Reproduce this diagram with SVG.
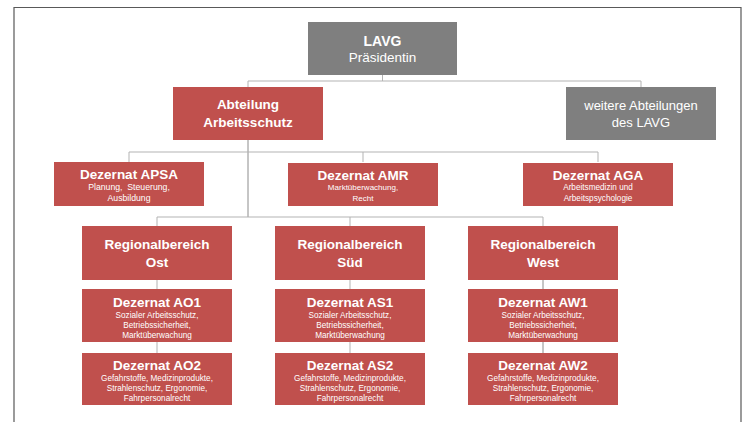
<svg xmlns="http://www.w3.org/2000/svg" width="744" height="422" viewBox="0 0 744 422">
<style>
.red{fill:#c0504d}
.gray{fill:#7f7f7f}
text{font-family:"Liberation Sans",Arial,sans-serif;fill:#ffffff;text-anchor:middle}
.t{font-size:13.5px;font-weight:bold}
.n{font-size:13.5px}
.s{font-size:8.2px}
.ln{fill:none;stroke:#b3b3b3;stroke-width:1}
.dk{fill:none;stroke:#8c8c8c;stroke-width:1}
.frame{fill:none;stroke:#595959;stroke-width:1.2}
</style>
<rect width="744" height="422" fill="#ffffff"/>
<path class="frame" d="M14,423 V7.5 H741 V423"/>
<g id="connectors">
<path class="ln" d="M382.5,75 V81 M248,81 H641 M248,81 V87 M641,81 V87"/>
<path class="dk" d="M248,140 V217"/>
<path class="ln" d="M129,152 H598 M129,152 V162 M363,152 V162 M598,152 V162"/>
<path class="ln" d="M157,217 H543 M157,217 V226 M350,217 V226 M543,217 V226"/>
<path class="ln" d="M157,280 V289 M350,280 V289 M157,342 V353 M350,342 V353"/>
<path class="dk" d="M543,280 V289 M543,342 V353"/>
</g>
<g id="lavg"><rect class="gray" x="308" y="22" width="149" height="53"/>
<text class="t" x="382.5" y="46" style="font-size:14px">LAVG</text><text class="n" x="382.5" y="62" style="font-size:13.5px">Präsidentin</text></g>
<g id="abteilung"><rect class="red" x="173" y="87" width="150" height="53"/>
<text class="t" x="248" y="109">Abteilung</text><text class="t" x="248" y="127">Arbeitsschutz</text></g>
<g id="weitere"><rect class="gray" x="566" y="87" width="150" height="53"/>
<text class="n" x="641" y="110" style="font-size:13px">weitere Abteilungen</text><text class="n" x="641" y="127" style="font-size:13px">des LAVG</text></g>
<g id="apsa"><rect class="red" x="54" y="162" width="150" height="44"/>
<text class="t" x="129" y="179">Dezernat APSA</text><text class="s" x="129" y="190" style="font-size:8.7px;white-space:pre" xml:space="preserve">Planung,  Steuerung,</text><text class="s" x="129" y="201" style="font-size:8.7px">Ausbildung</text></g>
<g id="amr"><rect class="red" x="288" y="163" width="150" height="43"/>
<text class="t" x="363" y="180">Dezernat AMR</text><text class="s" x="363" y="190" style="font-size:8px">Marktüberwachung,</text><text class="s" x="363" y="201" style="font-size:8px">Recht</text></g>
<g id="aga"><rect class="red" x="523" y="163" width="150" height="43"/>
<text class="t" x="598" y="180">Dezernat AGA</text><text class="s" x="598" y="190" style="font-size:8.2px">Arbeitsmedizin und</text><text class="s" x="598" y="201" style="font-size:8.2px">Arbeitspsychologie</text></g>
<g id="rb-ost"><rect class="red" x="82" y="226" width="150" height="54"/>
<text class="t" x="157" y="249">Regionalbereich</text><text class="t" x="157" y="267">Ost</text></g>
<g id="rb-sued"><rect class="red" x="275" y="226" width="150" height="54"/>
<text class="t" x="350" y="249">Regionalbereich</text><text class="t" x="350" y="267">Süd</text></g>
<g id="rb-west"><rect class="red" x="468" y="226" width="150" height="54"/>
<text class="t" x="543" y="249">Regionalbereich</text><text class="t" x="543" y="267">West</text></g>
<g id="ao1"><rect class="red" x="82" y="289" width="150" height="53"/>
<text class="t" x="157" y="307">Dezernat AO1</text><text class="s" x="157" y="318">Sozialer Arbeitsschutz,</text><text class="s" x="157" y="328">Betriebssicherheit,</text><text class="s" x="157" y="338">Marktüberwachung</text></g>
<g id="as1"><rect class="red" x="275" y="289" width="150" height="53"/>
<text class="t" x="350" y="307">Dezernat AS1</text><text class="s" x="350" y="318">Sozialer Arbeitsschutz,</text><text class="s" x="350" y="328">Betriebssicherheit,</text><text class="s" x="350" y="338">Marktüberwachung</text></g>
<g id="aw1"><rect class="red" x="468" y="289" width="150" height="53"/>
<text class="t" x="543" y="307">Dezernat AW1</text><text class="s" x="543" y="318">Sozialer Arbeitsschutz,</text><text class="s" x="543" y="328">Betriebssicherheit,</text><text class="s" x="543" y="338">Marktüberwachung</text></g>
<g id="ao2"><rect class="red" x="82" y="353" width="150" height="52"/>
<text class="t" x="157" y="370">Dezernat AO2</text><text class="s" x="157" y="381">Gefahrstoffe, Medizinprodukte,</text><text class="s" x="157" y="391">Strahlenschutz, Ergonomie,</text><text class="s" x="157" y="401">Fahrpersonalrecht</text></g>
<g id="as2"><rect class="red" x="275" y="353" width="150" height="52"/>
<text class="t" x="350" y="370">Dezernat AS2</text><text class="s" x="350" y="381">Gefahrstoffe, Medizinprodukte,</text><text class="s" x="350" y="391">Strahlenschutz, Ergonomie,</text><text class="s" x="350" y="401">Fahrpersonalrecht</text></g>
<g id="aw2"><rect class="red" x="468" y="353" width="150" height="52"/>
<text class="t" x="543" y="370">Dezernat AW2</text><text class="s" x="543" y="381">Gefahrstoffe, Medizinprodukte,</text><text class="s" x="543" y="391">Strahlenschutz, Ergonomie,</text><text class="s" x="543" y="401">Fahrpersonalrecht</text></g>
</svg>
